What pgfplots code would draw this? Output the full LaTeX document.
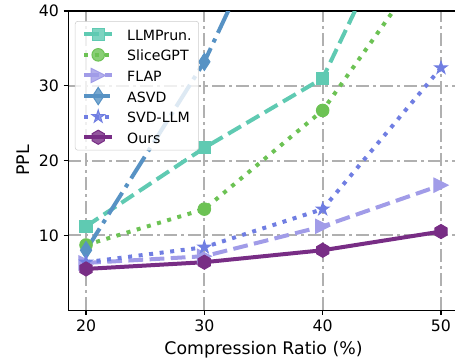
\documentclass[border=0pt]{standalone}
\usepackage{fontspec}
\setmainfont{DejaVu Sans}
\usepackage{pgfplots}
\pgfplotsset{compat=1.18}
\definecolor{cLLM}{RGB}{95,202,178}
\definecolor{cSlice}{RGB}{108,194,84}
\definecolor{cFLAP}{RGB}{161,156,232}
\definecolor{cASVD}{RGB}{87,146,196}
\definecolor{cSVD}{RGB}{112,126,226}
\definecolor{cOurs}{RGB}{120,45,133}
\definecolor{cGrid}{RGB}{176,176,176}
\definecolor{cFrame}{RGB}{204,204,204}
\pgfdeclareplotmark{hexagon*}{%
  \pgfpathmoveto{\pgfpointpolar{90}{\pgfplotmarksize}}%
  \pgfpathlineto{\pgfpointpolar{150}{\pgfplotmarksize}}%
  \pgfpathlineto{\pgfpointpolar{210}{\pgfplotmarksize}}%
  \pgfpathlineto{\pgfpointpolar{270}{\pgfplotmarksize}}%
  \pgfpathlineto{\pgfpointpolar{330}{\pgfplotmarksize}}%
  \pgfpathlineto{\pgfpointpolar{30}{\pgfplotmarksize}}%
  \pgfpathclose\pgfusepathqfillstroke}
\pgfdeclareplotmark{star5*}{%
  \pgfpathmoveto{\pgfpointpolar{90}{\pgfplotmarksize}}%
  \pgfpathlineto{\pgfpointpolar{126}{0.382\pgfplotmarksize}}%
  \pgfpathlineto{\pgfpointpolar{162}{\pgfplotmarksize}}%
  \pgfpathlineto{\pgfpointpolar{198}{0.382\pgfplotmarksize}}%
  \pgfpathlineto{\pgfpointpolar{234}{\pgfplotmarksize}}%
  \pgfpathlineto{\pgfpointpolar{270}{0.382\pgfplotmarksize}}%
  \pgfpathlineto{\pgfpointpolar{306}{\pgfplotmarksize}}%
  \pgfpathlineto{\pgfpointpolar{342}{0.382\pgfplotmarksize}}%
  \pgfpathlineto{\pgfpointpolar{18}{\pgfplotmarksize}}%
  \pgfpathlineto{\pgfpointpolar{54}{0.382\pgfplotmarksize}}%
  \pgfpathclose\pgfusepathqfillstroke}
\pgfdeclareplotmark{triright*}{%
  \pgfpathmoveto{\pgfqpoint{\pgfplotmarksize}{0pt}}%
  \pgfpathlineto{\pgfqpoint{-\pgfplotmarksize}{\pgfplotmarksize}}%
  \pgfpathlineto{\pgfqpoint{-\pgfplotmarksize}{-\pgfplotmarksize}}%
  \pgfpathclose\pgfusepathqfillstroke}
\pgfdeclareplotmark{thindiamond*}{%
  \pgfpathmoveto{\pgfqpoint{0pt}{\pgfplotmarksize}}%
  \pgfpathlineto{\pgfqpoint{0.65\pgfplotmarksize}{0pt}}%
  \pgfpathlineto{\pgfqpoint{0pt}{-\pgfplotmarksize}}%
  \pgfpathlineto{\pgfqpoint{-0.65\pgfplotmarksize}{0pt}}%
  \pgfpathclose\pgfusepathqfillstroke}
\begin{document}
\begin{tikzpicture}
\begin{axis}[name=ax, scale only axis, width=292.8pt, height=224.25pt,
  xmin=18.5, xmax=51.5, ymin=0, ymax=40,
  xtick={20,30,40,50}, ytick={10,20,30,40},
  tick align=outside, tick pos=left, major tick length=3.5pt,
  tick style={black, line width=0.8pt},
  axis line style={line width=0.8pt},
  grid=major,
  major grid style={cGrid, line width=1.5pt, dash pattern=on 9.6pt off 3.2pt on 2pt off 3.2pt},
  ticklabel style={font=\fontsize{11.8}{14}\selectfont},
  /pgf/number format/assume math mode=true,
  xlabel={Compression Ratio (\%)}, ylabel={PPL},
  label style={font=\fontsize{13}{15}\selectfont},
  xlabel style={at={(axis description cs:0.5,-0.147)}, anchor=base},
  ylabel style={at={(axis description cs:-0.1153,0.5)}, anchor=center},
  legend cell align=left,
  legend image code/.code={\draw[mark repeat=2,mark phase=2,#1] plot coordinates {(0pt,0pt)(10.5pt,0pt)(21pt,0pt)};},
  legend style={at={(axis description cs:0,1)}, anchor=north west, xshift=5pt, yshift=-7.5pt,
    draw=cFrame, rounded corners=2pt, fill=white, fill opacity=0.8, text opacity=1,
    font=\fontsize{10.6}{12.5}\selectfont, inner xsep=5.25pt, inner ysep=2pt, row sep=0pt,
    nodes={inner sep=0pt, text height=12.3pt, text depth=3.15pt},
    /tikz/every odd column/.append style={column sep=9.75pt}},
  every axis plot/.append style={line width=3pt},
]
\addplot[cLLM, dash pattern=on 11.1pt off 4.8pt, mark=square*, mark size=4.6pt, mark options={solid, line width=0.75pt, fill=cLLM}]
  coordinates {(20,11.2) (30,21.7) (40,31.0) (50,64)};
\addlegendentry{LLMPrun.}
\addplot[cSlice, dash pattern=on 3pt off 4.95pt, mark=*, mark size=4.7pt, mark options={solid, line width=0.75pt, fill=cSlice}]
  coordinates {(20,8.7) (30,13.5) (40,26.7) (50,49)};
\addlegendentry{SliceGPT}
\addplot[cFLAP, dash pattern=on 11.1pt off 4.8pt, mark=triright*, mark size=5.3pt, mark options={solid, line width=0.75pt, fill=cFLAP}]
  coordinates {(20,6.3) (30,7.2) (40,11.2) (50,16.7)};
\addlegendentry{FLAP}
\addplot[cASVD, dash pattern=on 19.2pt off 4.8pt on 3pt off 4.8pt, mark=thindiamond*, mark size=6.5pt, mark options={solid, line width=0.75pt, fill=cASVD}]
  coordinates {(20,8.0) (30,33.2) (40,67) (50,100)};
\addlegendentry{ASVD}
\addplot[cSVD, dash pattern=on 3pt off 4.95pt, mark=star5*, mark size=5pt, mark options={solid, line width=0.75pt, fill=cSVD}]
  coordinates {(20,6.4) (30,8.4) (40,13.5) (50,32.4)};
\addlegendentry{SVD-LLM}
\addplot[cOurs, solid, mark=hexagon*, mark size=5.3pt, mark options={solid, line width=0.75pt, fill=cOurs}]
  coordinates {(20,5.5) (30,6.4) (40,8.0) (50,10.5)};
\addlegendentry{Ours}
\end{axis}
\pgfresetboundingbox
\path ([xshift=-51.2pt,yshift=-37.5pt]ax.south west) rectangle ([xshift=-2.8pt,yshift=8.25pt]ax.north east);
\end{tikzpicture}
\end{document}
